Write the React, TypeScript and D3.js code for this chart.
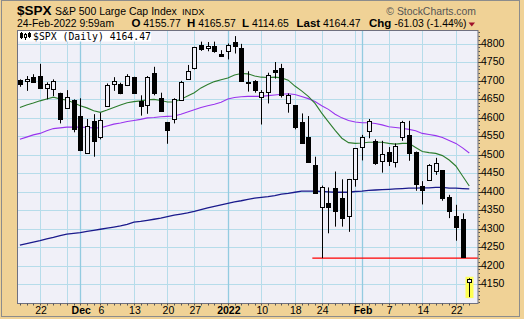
import React from "react";
import * as d3 from "d3";

// ---------- DATA ----------
const dates = [
  "Nov 17","Nov 18","Nov 19","Nov 22","Nov 23","Nov 24","Nov 26","Nov 29","Nov 30",
  "Dec 1","Dec 2","Dec 3","Dec 6","Dec 7","Dec 8","Dec 9","Dec 10","Dec 13","Dec 14","Dec 15","Dec 16","Dec 17",
  "Dec 20","Dec 21","Dec 22","Dec 23","Dec 27","Dec 28","Dec 29","Dec 30","Dec 31",
  "Jan 3","Jan 4","Jan 5","Jan 6","Jan 7","Jan 10","Jan 11","Jan 12","Jan 13","Jan 14","Jan 18","Jan 19","Jan 20","Jan 21",
  "Jan 24","Jan 25","Jan 26","Jan 27","Jan 28","Jan 31",
  "Feb 1","Feb 2","Feb 3","Feb 4","Feb 7","Feb 8","Feb 9","Feb 10","Feb 11","Feb 14","Feb 15","Feb 16","Feb 17","Feb 18",
  "Feb 22","Feb 23","Feb 24"
];
const opens = [4701,4700,4709,4712,4679,4676,4666,4627,4647,4604,4505,4590,4548,4632,4690,4690,4687,4710,4645,4634,4721,4652,4588,4595,4647,4703,4733,4796,4789,4793,4772,4779,4803,4787,4696,4699,4656,4668,4728,4733,4638,4633,4587,4547,4472,4357,4368,4410,4382,4335,4433,4520,4564,4536,4482,4507,4479,4547,4553,4506,4414,4430,4455,4457,4384,4334,4326,4155.77];
const highs = [4703,4712,4717,4745,4695,4703,4667,4674,4649,4652,4596,4609,4613,4692,4709,4694,4717,4710,4660,4712,4737,4667,4588,4652,4699,4742,4791,4805,4804,4805,4782,4800,4820,4799,4725,4701,4674,4721,4750,4745,4665,4633,4611,4604,4494,4416,4411,4454,4433,4434,4517,4553,4596,4541,4537,4520,4530,4591,4591,4508,4428,4474,4491,4457,4391,4364,4341,4165.57];
const lows = [4683,4672,4694,4680,4649,4658,4584,4625,4560,4509,4505,4494,4541,4632,4672,4663,4685,4667,4605,4610,4660,4617,4529,4584,4647,4703,4730,4780,4779,4775,4766,4757,4773,4697,4670,4667,4581,4638,4705,4654,4613,4568,4530,4480,4395,4220,4287,4305,4305,4291,4413,4484,4544,4472,4451,4469,4465,4537,4483,4402,4365,4430,4445,4375,4328,4267,4221,4114.65];
const closes = [4690,4703.5,4697,4681,4690,4700,4595,4655,4568,4512,4576,4537,4593,4688,4700,4667,4712,4667,4631,4710,4667,4618,4566,4649,4696,4725,4790,4786,4793,4779,4766,4796,4793,4700,4692,4674,4670,4715,4724,4661,4662,4575,4531,4481,4397,4411,4357,4348,4328,4434,4517,4547,4590,4476,4501,4483,4523,4587,4503,4420,4403,4471,4476,4382,4348,4305,4224,4164.47];

const ma20 = [4627,4634,4639,4645,4650,4655,4650,4647,4640,4632,4626,4618,4614,4620,4627,4634,4640,4643,4645,4648,4649,4646,4642,4642,4649,4658,4667,4680,4689,4697,4702,4707,4715,4719,4718,4712,4709,4708,4709,4707,4701,4685,4672,4657,4638,4612,4588,4565,4544,4532,4530,4531,4533,4533,4533,4530,4528,4530,4530,4519,4508,4505,4503,4497,4485,4469,4442,4415];
const ma50 = [4541,4547,4553,4557,4564,4570,4572,4574,4574,4574,4573,4572,4572,4577,4582,4585,4589,4592,4595,4599,4600,4602,4603,4604,4609,4615,4621,4627,4632,4636,4641,4650,4654,4656,4657,4657,4657,4659,4661,4663,4664,4662,4657,4651,4643,4632,4622,4609,4599,4592,4588,4586,4586,4584,4580,4575,4573,4571,4568,4564,4557,4554,4551,4546,4538,4530,4518,4504];
const ma200 = [4255,4259,4263,4267,4272,4276,4281,4285,4287,4289,4292,4295,4298,4301,4304,4307,4311,4317,4319,4322,4325,4328,4332,4336,4339,4342,4346,4351,4356,4360,4364,4368,4372,4375,4379,4382,4384,4386,4389,4393,4395,4398,4401,4401,4401,4400,4399,4398,4398,4398,4400,4401,4403,4404,4405,4406,4407,4408,4409,4409,4410,4410,4411,4411,4409,4409,4408,4407];

const supportLevel = 4220;
const supportStart = 43.6;

const yTicks = [4150,4200,4250,4300,4350,4400,4450,4500,4550,4600,4650,4700,4750,4800];
const xTickIdx = [3,9,12,17,22,26,31,36,41,45,51,55,60,65];
const xTickLabels = ["22","Dec","6","13","20","27","2022","10","18","24","Feb","7","14","22"];
const xTickBold = [false,true,false,false,false,false,true,false,false,false,true,false,false,false];
const weekGridIdx = [3,7,12,17,22,26,36,41,45,50,55,60,65];
const monthGridIdx = [9,31,51];

const headerTitle = "$SPX";
const headerName = "S&P 500 Large Cap Index";
const headerExch = "INDX";
const headerDate = "24-Feb-2022 9:59am";
const headerOpen = "4155.77";
const headerHigh = "4165.57";
const headerLow = "4114.65";
const headerLast = "4164.47";
const headerChg = "-61.03 (-1.44%)";
const legendText = "$SPX (Daily) 4164.47";

// ---------- LAYOUT ----------
const W = 524, H = 319;
const PL = 17, PR = 478, PT = 30, PB = 303;
const BG = "#f0d296";
const PLOTBG = "#f0f0f8";
const GRID = "#b6dcea";
const GRIDM = "#93cbe0";
const FONT = "'Liberation Sans', Arial, Helvetica, sans-serif";

export default function App() {
  const x = d3.scaleLinear().domain([-0.43, 68.3]).range([PL, PR]);
  const y = d3.scaleLinear().domain([4150, 4800]).range([284, 43.5]);
  const line = d3.line<number>().x((_, i) => x(i)).y((d) => y(d));
  const minorY = d3.range(4100, 4840, 10).filter((v) => y(v) > PT && y(v) < PB);
  const last = opens.length - 1;

  return (
    <svg width={W} height={H} style={{ position: "absolute", left: 0, top: 0 }} xmlns="http://www.w3.org/2000/svg">
      <defs>
        <clipPath id="pc"><rect x={PL} y={PT} width={PR - PL} height={PB - PT} /></clipPath>
      </defs>
      <rect x={0} y={0} width={W} height={H} fill={BG} />
      <rect x={1.5} y={0.5} width={518} height={316} fill="none" stroke="#8c8c8c" />

      {/* header */}
      <text x={17} y={14.5} fontFamily={FONT} fontSize={13.5} fontWeight="bold" fill="#000">{headerTitle}</text>
      <text x={55} y={14.5} fontFamily={FONT} fontSize={10.5} fill="#000">{headerName}</text>
      <text x={182} y={14.5} fontFamily={FONT} fontSize={9.4} fill="#000">{headerExch}</text>
      <text x={476} y={14.5} fontFamily={FONT} fontSize={10.4} fill="#555" textAnchor="end">© StockCharts.com</text>
      <g fontFamily={FONT} fontSize={10.4} fill="#000">
        <text x={17} y={27}>{headerDate}</text>
        <text x={131.5} y={27}><tspan fontWeight="bold" fontSize={11.5}>O</tspan> {headerOpen}</text>
        <text x={187} y={27}><tspan fontWeight="bold" fontSize={11.5}>H</tspan> {headerHigh}</text>
        <text x={242} y={27}><tspan fontWeight="bold" fontSize={11.5}>L</tspan> {headerLow}</text>
        <text x={296.5} y={27}><tspan fontWeight="bold" fontSize={11.5}>Last</tspan> {headerLast}</text>
        <text x={369} y={27}><tspan fontWeight="bold" fontSize={11.5}>Chg</tspan> {headerChg}</text>
      </g>
      <path d="M468.5,22.5 L475,22.5 L471.75,26.5 Z" fill="#a0102a" />

      {/* plot */}
      <rect x={PL} y={PT} width={PR - PL} height={PB - PT} fill={PLOTBG} />
      <g clipPath="url(#pc)">
        {yTicks.map((v) => (
          <line key={"h" + v} x1={PL} x2={PR} y1={Math.round(y(v)) + 0.5} y2={Math.round(y(v)) + 0.5} stroke={GRID} />
        ))}
        {weekGridIdx.map((i) => (
          <line key={"w" + i} x1={Math.round(x(i)) + 0.5} x2={Math.round(x(i)) + 0.5} y1={PT} y2={PB} stroke={GRID} />
        ))}
        {monthGridIdx.map((i) => (
          <line key={"m" + i} x1={Math.round(x(i)) + 0.5} x2={Math.round(x(i)) + 0.5} y1={PT} y2={PB} stroke={GRIDM} strokeWidth={1.3} />
        ))}
        <rect x={PL} y={PT} width={134} height={11.5} fill="#ffffff" />

        <path d={line(ma200) || ""} fill="none" stroke="#1a1a8c" strokeWidth={1.3} />
        <path d={line(ma50) || ""} fill="none" stroke="#9933ee" strokeWidth={1.1} />
        <path d={line(ma20) || ""} fill="none" stroke="#2e7d2e" strokeWidth={1.1} />

        <line x1={x(supportStart)} x2={PR} y1={y(supportLevel)} y2={y(supportLevel)} stroke="#ff0000" strokeWidth={1.2} />

        <rect x={Math.round(x(last)) - 3.5} y={y(highs[last]) - 1.5} width={8} height={y(lows[last]) - y(highs[last]) + 2.5} fill="#ffff55" />

        {opens.map((o, i) => {
          const c = closes[i];
          const px = Math.round(x(i));
          const up = c >= o;
          const top = Math.round(y(Math.max(o, c))) + 0.5;
          const bot = Math.round(y(Math.min(o, c))) + 0.5;
          const h = Math.max(bot - top, 1);
          return (
            <g key={"c" + i}>
              <line x1={px + 0.5} x2={px + 0.5} y1={y(highs[i])} y2={y(lows[i])} stroke="#000" />
              <rect x={px - 1.5} y={top} width={4} height={h} fill={up ? PLOTBG : "#000"} stroke="#000" />
            </g>
          );
        })}

        {/* legend */}
        <g transform="translate(20,32)" fill="none" stroke="#000">
          <line x1={1.5} x2={1.5} y1={0} y2={7} />
          <rect x={0.5} y={1.5} width={2} height={4} fill="#000" />
          <line x1={5.5} x2={5.5} y1={1} y2={8} />
          <rect x={4.5} y={2.5} width={2} height={3} fill="#fff" />
          <line x1={9.5} x2={9.5} y1={0} y2={6} />
          <rect x={8.5} y={1.5} width={2} height={3} fill="#000" />
        </g>
        <text x={33} y={39.5} fontFamily="'DejaVu Sans Mono', monospace" fontSize={9.8} fill="#000">{legendText}</text>
      </g>
      <rect x={PL + 0.5} y={PT + 0.5} width={PR - PL - 0.5} height={PB - PT} fill="none" stroke="#6f7080" />

      {/* right axis */}
      {minorY.map((v) => (
        <line key={"my" + v} x1={PR + 0.5} x2={PR + 2} y1={Math.round(y(v)) + 0.5} y2={Math.round(y(v)) + 0.5} stroke="#555" />
      ))}
      {yTicks.map((v) => (
        <g key={"yl" + v}>
          <line x1={PR + 0.5} x2={PR + 3.5} y1={Math.round(y(v)) + 0.5} y2={Math.round(y(v)) + 0.5} stroke="#333" />
          <text x={481} y={y(v) + 3.2} fontFamily={FONT} fontSize={10.5} fill="#000">{v}</text>
        </g>
      ))}

      {/* bottom axis */}
      {opens.map((_, i) => (
        <line key={"mx" + i} x1={Math.round(x(i)) + 0.5} x2={Math.round(x(i)) + 0.5} y1={PB + 0.5} y2={PB + 2.5} stroke="#555" />
      ))}
      {xTickIdx.map((idx, k) => (
        <text key={"xl" + k} x={x(idx) + 1} y={314} textAnchor="middle" fontFamily={FONT} fontSize={10.5}
          fontWeight={xTickBold[k] ? "bold" : "normal"} fill="#000">{xTickLabels[k]}</text>
      ))}
    </svg>
  );
}
